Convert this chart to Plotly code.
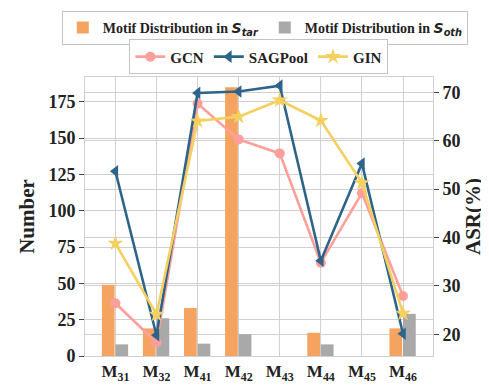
import plotly.graph_objects as go

categories = ["M<sub>31</sub>", "M<sub>32</sub>", "M<sub>41</sub>", "M<sub>42</sub>",
              "M<sub>43</sub>", "M<sub>44</sub>", "M<sub>45</sub>", "M<sub>46</sub>"]
motif_star = [49, 19, 33, 185, 0, 16, 0, 19]
motif_oth = [8, 26, 8.5, 15, 0, 8, 0, 29]
asr_gcn = [26.4, 18.3, 67.7, 60.3, 57.4, 34.8, 49.2, 27.9]
asr_sagpool = [53.7, 19.8, 69.9, 70.2, 71.4, 35.2, 55.3, 20.1]
asr_gin = [38.8, 24.1, 64.1, 65.0, 68.4, 64.2, 51.3, 24.3]
left_ticks = [0, 25, 50, 75, 100, 125, 150, 175]
right_ticks = [20, 30, 40, 50, 60, 70]

x = list(range(len(categories)))
serif = "Liberation Serif"
sym = "<span style=\"font-family:'DejaVu Sans';font-style:italic\">S<sub>%s</sub></span>"

fig = go.Figure()
fig.add_trace(go.Bar(x=x, y=motif_star, name="Motif Distribution in " + sym % "tar",
                     marker_color="#f4a460", marker_line_width=0,
                     width=0.31, offset=-0.33, legend="legend"))
fig.add_trace(go.Bar(x=x, y=motif_oth, name="Motif Distribution in " + sym % "oth",
                     marker_color="#a9a9a9", marker_line_width=0,
                     width=0.31, offset=0.0, legend="legend"))

lines = [("GCN", asr_gcn, "#ff9f9b", "circle", 10),
         ("SAGPool", asr_sagpool, "#2e6489", "triangle-left", 11),
         ("GIN", asr_gin, "#f4d060", "star", 12)]
for name, vals, color, symbol, size in lines:
    fig.add_trace(go.Scatter(x=x, y=vals, name=name, yaxis="y2", mode="lines+markers",
                             line=dict(color=color, width=2.6),
                             marker=dict(symbol=symbol, size=size, color=color),
                             legend="legend2"))

grid = "#d0d0d0"
fig.update_layout(
    width=489, height=386,
    margin=dict(l=77, r=64, t=69, b=38, autoexpand=False),
    plot_bgcolor="white", paper_bgcolor="white",
    barmode="overlay",
    font=dict(family=serif, size=15, color="#222222", weight="bold"),
    xaxis=dict(tickvals=x, ticktext=categories, range=[-0.74, 7.73], automargin=False,
               showgrid=True, gridcolor=grid, gridwidth=1,
               showline=True, linecolor=grid, mirror=True, zeroline=False,
               tickfont=dict(size=17, family=serif, weight="bold"), ticks=""),
    yaxis=dict(range=[0, 192], tickvals=left_ticks, showgrid=True, gridcolor=grid,
               showline=True, linecolor=grid, zeroline=False, automargin=False,
               ticks="outside", ticklen=5, tickcolor="#444444",
               tickfont=dict(size=18, family=serif, weight="bold"),
               title=dict(text="Number", font=dict(size=21, family=serif, weight="bold"),
                          standoff=8)),
    yaxis2=dict(range=[15.5, 73.2], tickvals=right_ticks, overlaying="y", side="right",
                showgrid=True, gridcolor=grid, showline=True, linecolor=grid,
                zeroline=False, automargin=False,
                ticks="outside", ticklen=5, tickcolor="#444444",
                tickfont=dict(size=18, family=serif, weight="bold"),
                title=dict(text="ASR(%)", font=dict(size=21, family=serif, weight="bold"),
                           standoff=4)),
    legend=dict(orientation="h", xref="paper", yref="paper", x=1.1, xanchor="right",
                y=1.115, yanchor="bottom", bordercolor="#c4c4c4", borderwidth=1,
                bgcolor="white", entrywidth=157, entrywidthmode="pixels",
                font=dict(size=14, family=serif, weight="bold")),
    legend2=dict(orientation="h", xref="container", yref="container", x=0.513,
                 xanchor="center", y=0.828, yanchor="bottom", bordercolor="#c4c4c4",
                 borderwidth=1, bgcolor="white",
                 font=dict(size=15, family=serif, weight="bold")),
)

fig.write_html("out.html")
